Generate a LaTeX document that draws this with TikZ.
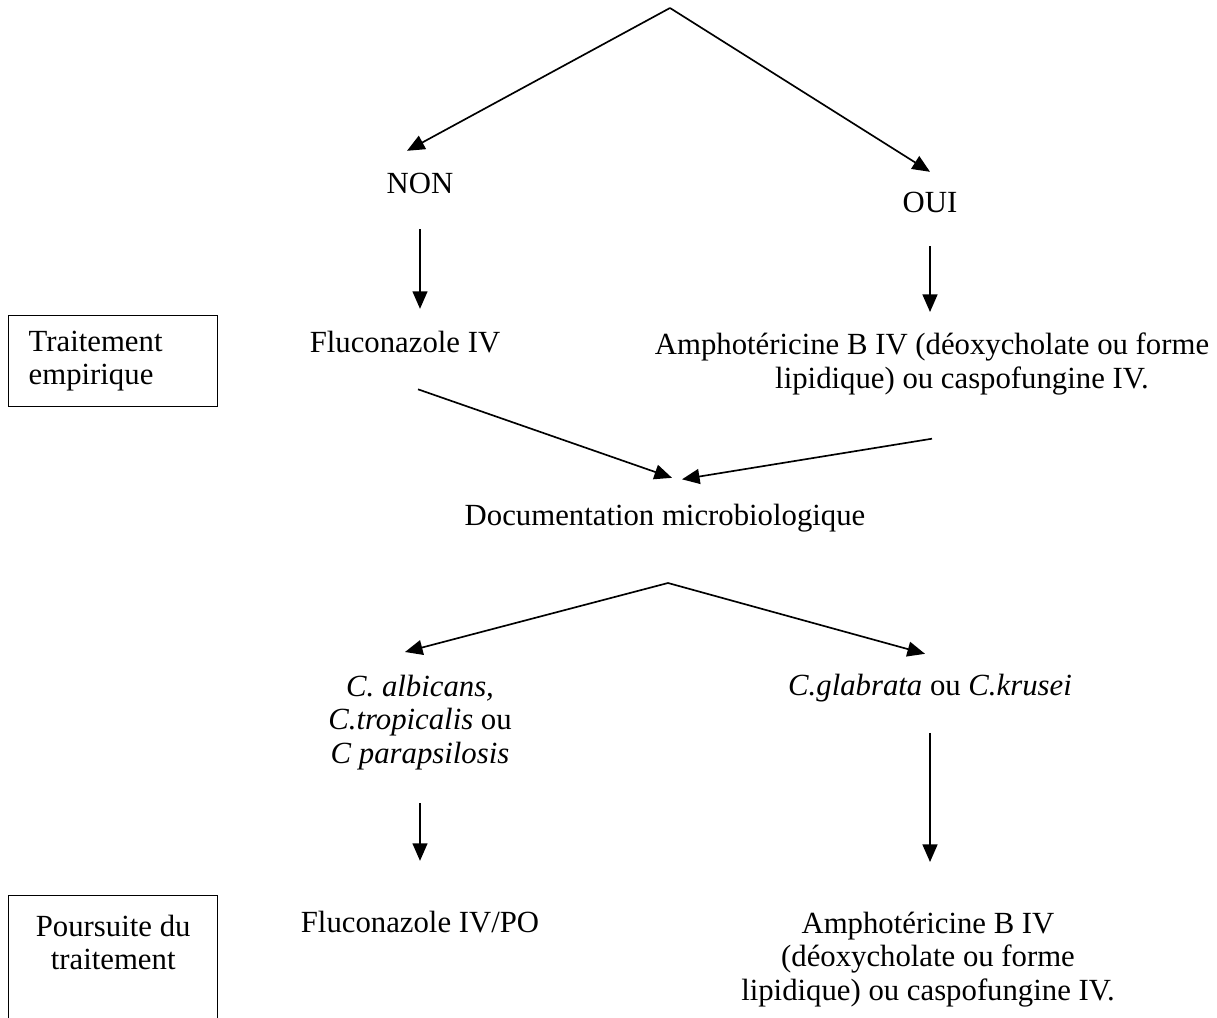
\documentclass[tikz,border=0pt]{standalone}
\usepackage{fontspec}
\setmainfont{Liberation Serif}
\usetikzlibrary{arrows.meta,positioning}

\begin{document}
\begin{tikzpicture}[>={Triangle[length=10pt,width=8.5pt]},line width=0.95pt,
  every node/.style={font=\fontsize{17.5}{19.2}\selectfont,inner sep=0pt},
  txt/.style={anchor=base},
  bloc/.style={anchor=north,align=center},
  cadre/.style={draw,line width=0.8pt,anchor=north west,text width=3.38cm,inner xsep=0.4cm}]

\useasboundingbox (0,0) rectangle (24.34,-20.36);
\clip (0,0) rectangle (24.34,-20.36);

\coordinate (top) at (13.4,-0.16);
\node[txt] (non) at (8.4,-3.88) {NON};
\node[txt] (oui) at (18.6,-4.26) {OUI};

\node[cadre,align=left,minimum height=1.82cm] (empirique) at (0.16,-6.3) {Traitement\\empirique};
\node[txt] (fluco) at (8.1,-7.06) {Fluconazole IV};
\node[bloc] (amph) at (18.64,-6.64) {Amphotéricine B IV (déoxycholate ou forme\\\hspace*{1.2cm}lipidique) ou caspofungine IV.};

\node[txt] (doc) at (13.3,-10.5) {Documentation microbiologique};
\coordinate (split) at (13.36,-11.66);

\node[bloc] (albi) at (8.4,-13.48) {\textit{C. albicans,}\\\textit{C.tropicalis} ou\\\textit{C parapsilosis}};
\node[txt] (glab) at (18.6,-13.9) {\textit{C.glabrata} ou \textit{C.krusei}};

\node[cadre,align=flush center,inner ysep=0.38cm] (suite) at (0.16,-17.9) {Poursuite du\\traitement\\[1.2cm]\mbox{}};
\node[txt] (flupo) at (8.4,-18.64) {Fluconazole IV/PO};
\node[bloc] (amph2) at (18.56,-18.22) {Amphotéricine B IV\\(déoxycholate ou forme\\lipidique) ou caspofungine IV.};

% fleches
\path[->]
(top) edge ([shift={(-0.26,0.44)}]non.north)
(top) edge ([yshift=0.4cm]oui.north)
(non.south) edge [shorten <=0.68cm,shorten >=0.44cm] (non.south |- fluco.north)
(oui.south) edge [shorten <=0.64cm,shorten >=0.4cm] (oui.south |- amph.north)
([shift={(0.26,-0.7)}]fluco.south) edge ([shift={(0.14,0.5)}]doc.north)
([yshift=-0.86cm]amph.south) edge ([shift={(0.34,0.47)}]doc.north)
(split) edge ([shift={(-0.3,0.44)}]albi.north)
(split) edge ([shift={(-0.1,0.38)}]glab.north)
(albi.south) edge [shorten <=0.64cm,shorten >=0.98cm] (albi.south |- flupo.north)
(glab.south) edge [shorten <=0.61cm,shorten >=0.98cm] (glab.south |- amph2.north);
\end{tikzpicture}
\end{document}
